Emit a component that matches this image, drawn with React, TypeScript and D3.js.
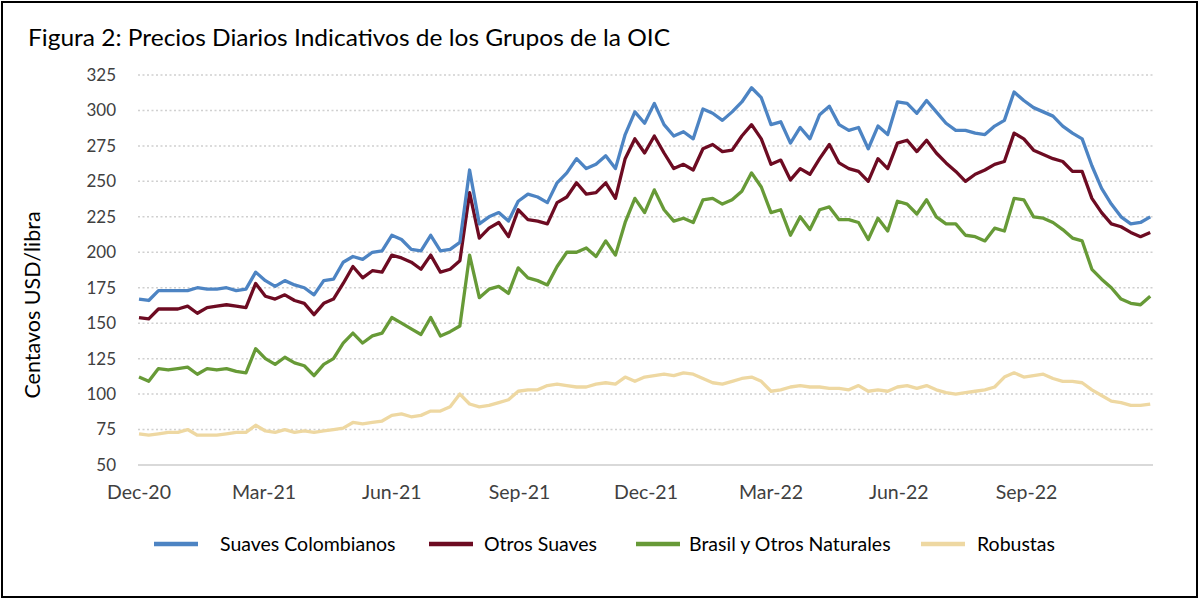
import React from "react";
import * as d3 from "d3";

// weekly readings, starting 1 Dec 2020
const startDate = new Date(2020, 11, 1);
const endDate = new Date(2022, 11, 1);

const tickDates = [
  new Date(2020, 11, 1), new Date(2021, 2, 1), new Date(2021, 5, 1), new Date(2021, 8, 1),
  new Date(2021, 11, 1), new Date(2022, 2, 1), new Date(2022, 5, 1), new Date(2022, 8, 1),
];
const tickLabels = ["Dec-20", "Mar-21", "Jun-21", "Sep-21", "Dec-21", "Mar-22", "Jun-22", "Sep-22"];
const yTicks = [50, 75, 100, 125, 150, 175, 200, 225, 250, 275, 300, 325];

const suavesColombianos = [
  167, 166, 173, 173, 173, 173, 175, 174, 174, 175,
  173, 174, 186, 180, 176, 180, 177, 175, 170, 180,
  181, 193, 197, 195, 200, 201, 212, 209, 202, 201,
  212, 201, 202, 207, 258, 220, 225, 228, 222, 236,
  241, 239, 235, 249, 256, 266, 259, 262, 268, 259,
  283, 299, 291, 305, 290, 282, 285, 280, 301, 298,
  293, 299, 306, 316, 309, 290, 292, 277, 288, 280,
  297, 303, 290, 286, 288, 273, 289, 283, 306, 305,
  298, 307, 299, 291, 286, 286, 284, 283, 289, 293,
  313, 307, 302, 299, 296, 289, 284, 280, 261, 245,
  234, 225, 220, 221, 225,
];
const otrosSuaves = [
  154, 153, 160, 160, 160, 162, 157, 161, 162, 163,
  162, 161, 178, 169, 167, 170, 166, 164, 156, 164,
  167, 178, 190, 182, 187, 186, 198, 196, 193, 188,
  198, 186, 188, 194, 242, 210, 217, 221, 211, 230,
  223, 222, 220, 235, 239, 249, 241, 242, 249, 238,
  266, 280, 270, 282, 270, 259, 262, 258, 273, 276,
  271, 272, 282, 290, 280, 262, 265, 251, 259, 255,
  266, 276, 263, 259, 257, 250, 266, 259, 277, 279,
  271, 279, 270, 263, 257, 250, 255, 258, 262, 264,
  284, 280, 272, 269, 266, 264, 257, 257, 238, 228,
  220, 218, 214, 211, 214,
];
const brasilNaturales = [
  112, 109, 118, 117, 118, 119, 114, 118, 117, 118,
  116, 115, 132, 125, 121, 126, 122, 120, 113, 121,
  125, 136, 143, 136, 141, 143, 154, 150, 146, 142,
  154, 141, 144, 148, 198, 168, 174, 176, 171, 189,
  182, 180, 177, 190, 200, 200, 203, 197, 208, 198,
  221, 238, 228, 244, 230, 222, 224, 221, 237, 238,
  234, 237, 243, 256, 246, 228, 230, 212, 225, 216,
  230, 232, 223, 223, 221, 209, 224, 215, 236, 234,
  227, 237, 225, 220, 220, 212, 211, 208, 217, 215,
  238, 237, 225, 224, 221, 216, 210, 208, 188, 181,
  175, 167, 164, 163, 169,
];
const robustas = [
  72, 71, 72, 73, 73, 75, 71, 71, 71, 72,
  73, 73, 78, 74, 73, 75, 73, 74, 73, 74,
  75, 76, 80, 79, 80, 81, 85, 86, 84, 85,
  88, 88, 91, 100, 93, 91, 92, 94, 96, 102,
  103, 103, 106, 107, 106, 105, 105, 107, 108, 107,
  112, 109, 112, 113, 114, 113, 115, 114, 111, 108,
  107, 109, 111, 112, 109, 102, 103, 105, 106, 105,
  105, 104, 104, 103, 106, 102, 103, 102, 105, 106,
  104, 106, 103, 101, 100, 101, 102, 103, 105, 112,
  115, 112, 113, 114, 111, 109, 109, 108, 103, 99,
  95, 94, 92, 92, 93,
];

const series = [
  { name: "Suaves Colombianos", values: suavesColombianos, color: "#4d84c3" },
  { name: "Otros Suaves", values: otrosSuaves, color: "#6d0b22" },
  { name: "Brasil y Otros Naturales", values: brasilNaturales, color: "#679a37" },
  { name: "Robustas", values: robustas, color: "#eed8a2" },
];

const font = "Lato, 'Open Sans', sans-serif";

const App = () => {
  const x = d3.scaleTime().domain([startDate, endDate]).range([139, 1153]);
  const y = d3.scaleLinear().domain([50, 325]).range([465, 75]);

  const line = d3
    .line<number>()
    .x((d, i) => x(d3.timeDay.offset(startDate, i * 7)))
    .y(d => y(d))
    .curve(d3.curveLinear);

  // legend layout (line sample x, text x)
  const legendItems = [
    { lx: 154, tx: 220 },
    { lx: 429, tx: 484 },
    { lx: 636, tx: 689 },
    { lx: 921, tx: 977 },
  ];

  return (
    <svg
      width={1203}
      height={601}
      style={{ position: "absolute", left: 0, top: 0, background: "#fff" }}
      fontFamily={font}
    >
      <rect x={2} y={2} width={1195} height={595} fill="#fff" stroke="#000" strokeWidth={2} />
      <text x={28} y={46} fontSize={24} fill="#000" textLength={642} lengthAdjust="spacingAndGlyphs">
        Figura 2: Precios Diarios Indicativos de los Grupos de la OIC
      </text>

      {yTicks.map(t => (
        <g key={t}>
          <line
            x1={138}
            x2={1153}
            y1={y(t)}
            y2={y(t)}
            stroke={t === 50 ? "#d9d9d9" : "#d0d0d0"}
            strokeWidth={t === 50 ? 2 : 1.5}
            strokeDasharray={t === 50 ? undefined : "2 2.5"}
          />
          <text x={116} y={y(t)} dy="0.35em" textAnchor="end" fontSize={17} fill="#404040">
            {t}
          </text>
        </g>
      ))}

      {tickDates.map((d, i) => (
        <text key={i} x={x(d)} y={499} textAnchor="middle" fontSize={19.5} fill="#404040">
          {tickLabels[i]}
        </text>
      ))}

      <text
        transform={`translate(40 ${305}) rotate(-90)`}
        textAnchor="middle"
        fontSize={21.5}
        fill="#000"
      >
        Centavos USD/libra
      </text>

      {[...series].reverse().map(s => (
        <path
          key={s.name}
          d={line(s.values) || ""}
          fill="none"
          stroke={s.color}
          strokeWidth={3.3}
          strokeLinejoin="round"
        />
      ))}

      {series.map((s, i) => (
        <g key={s.name}>
          <line
            x1={legendItems[i].lx}
            x2={legendItems[i].lx + 44}
            y1={544}
            y2={544}
            stroke={s.color}
            strokeWidth={4.5}
          />
          <text x={legendItems[i].tx} y={544} dy="0.35em" fontSize={19.5} fill="#000">
            {s.name}
          </text>
        </g>
      ))}
    </svg>
  );
};

export default App;
